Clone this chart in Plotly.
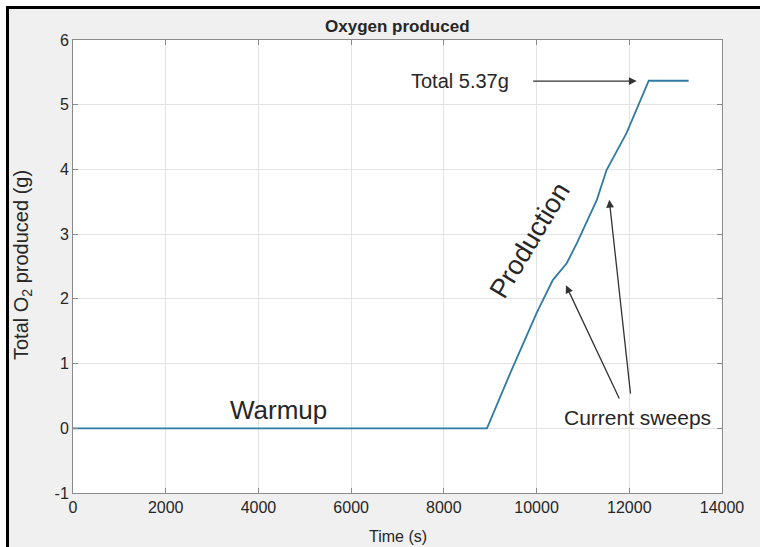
import plotly.graph_objects as go

time_s = [0, 8930, 9430, 10000, 10350, 10650, 10870, 11300, 11510, 11940, 12420, 13280]
o2_g = [0, 0, 0.85, 1.78, 2.29, 2.55, 2.86, 3.53, 3.99, 4.56, 5.37, 5.37]
x_ticks = [0, 2000, 4000, 6000, 8000, 10000, 12000, 14000]
y_ticks = [-1, 0, 1, 2, 3, 4, 5, 6]

FONT = "Liberation Sans, Arial, sans-serif"
TXT = "#262626"

fig = go.Figure()
fig.add_trace(go.Scatter(x=time_s, y=o2_g, mode="lines",
                         line=dict(color="#2f7ba3", width=1.8), showlegend=False))

axis_common = dict(showgrid=True, gridcolor="#e3e3e3", gridwidth=1,
                   showline=True, linecolor="#8a8a8a", linewidth=1, mirror="ticks",
                   ticks="inside", ticklen=5, tickcolor="#8a8a8a",
                   zeroline=False, tickfont=dict(family=FONT, size=16, color=TXT))

fig.update_xaxes(range=[0, 14000], tickvals=x_ticks, ticktext=[str(v) for v in x_ticks], **axis_common)
fig.update_yaxes(range=[-1, 6], tickvals=y_ticks, ticktext=[str(v) for v in y_ticks], **axis_common)

annots = [
    dict(x=0.5, y=1 + 14 / 453, xref="paper", yref="paper", text="<b>Oxygen produced</b>",
         showarrow=False, font=dict(size=17, family=FONT, color=TXT), xanchor="center", yanchor="middle"),
    dict(x=-51 / 649, y=(493 - 265) / 453, xref="paper", yref="paper", text="Total O<sub>2</sub> produced (g)",
         showarrow=False, textangle=-90, font=dict(size=20, family=FONT, color=TXT), xanchor="center", yanchor="middle"),
    dict(x=0.5, y=-(536 - 493) / 453, xref="paper", yref="paper", text="Time (s)",
         showarrow=False, font=dict(size=16, family=FONT, color=TXT), xanchor="center", yanchor="middle"),
    dict(x=8348, y=5.366, text="Total 5.37g", showarrow=False,
         font=dict(size=20, family=FONT, color=TXT), xanchor="center", yanchor="middle"),
    dict(x=4443, y=0.28, text="Warmup", showarrow=False,
         font=dict(size=26, family=FONT, color=TXT), xanchor="center", yanchor="middle"),
    dict(x=9858, y=2.91, text="Production", showarrow=False, textangle=-59,
         font=dict(size=27, family=FONT, color=TXT), xanchor="center", yanchor="middle"),
    dict(x=12187, y=0.17, text="Current sweeps", showarrow=False,
         font=dict(size=21, family=FONT, color=TXT), xanchor="center", yanchor="middle"),
]
arrows = [
    ((9894, 5.366), (12159, 5.366)),
    ((11799, 0.436), (10634, 2.21)),
    ((12030, 0.513), (11568, 3.53)),
]
for (tx, ty), (hx, hy) in arrows:
    annots.append(dict(x=hx, y=hy, ax=tx, ay=ty, xref="x", yref="y", axref="x", ayref="y",
                       text="", showarrow=True, arrowhead=2, arrowsize=1.2, arrowwidth=1.3,
                       arrowcolor="#333333"))

shapes = [
    dict(type="rect", xref="paper", yref="paper", x0=-73 / 649, x1=(760 - 73) / 649,
         y0=1 + 31 / 453, y1=1 + 40 / 453, fillcolor="white", line=dict(width=0), layer="below"),
    dict(type="rect", xref="paper", yref="paper", x0=-73 / 649, x1=-66 / 649,
         y0=-54 / 453, y1=1 + 40 / 453, fillcolor="white", line=dict(width=0), layer="below"),
    dict(type="rect", xref="paper", yref="paper", x0=-67 / 649, x1=(760 - 73) / 649,
         y0=1 + 31 / 453, y1=1 + 34 / 453, fillcolor="black", line=dict(width=0), layer="below"),
    dict(type="rect", xref="paper", yref="paper", x0=-67 / 649, x1=-64 / 649,
         y0=-54 / 453, y1=1 + 34 / 453, fillcolor="black", line=dict(width=0), layer="below"),
]

fig.update_layout(width=760, height=547, margin=dict(l=73, r=38, t=40, b=54),
                  paper_bgcolor="#f0f0f0", plot_bgcolor="white",
                  annotations=annots, shapes=shapes, font=dict(family=FONT))
fig.write_html("out.html", config={"displayModeBar": False},
               post_script="document.body.style.margin='0px';document.body.style.overflow='hidden';")
